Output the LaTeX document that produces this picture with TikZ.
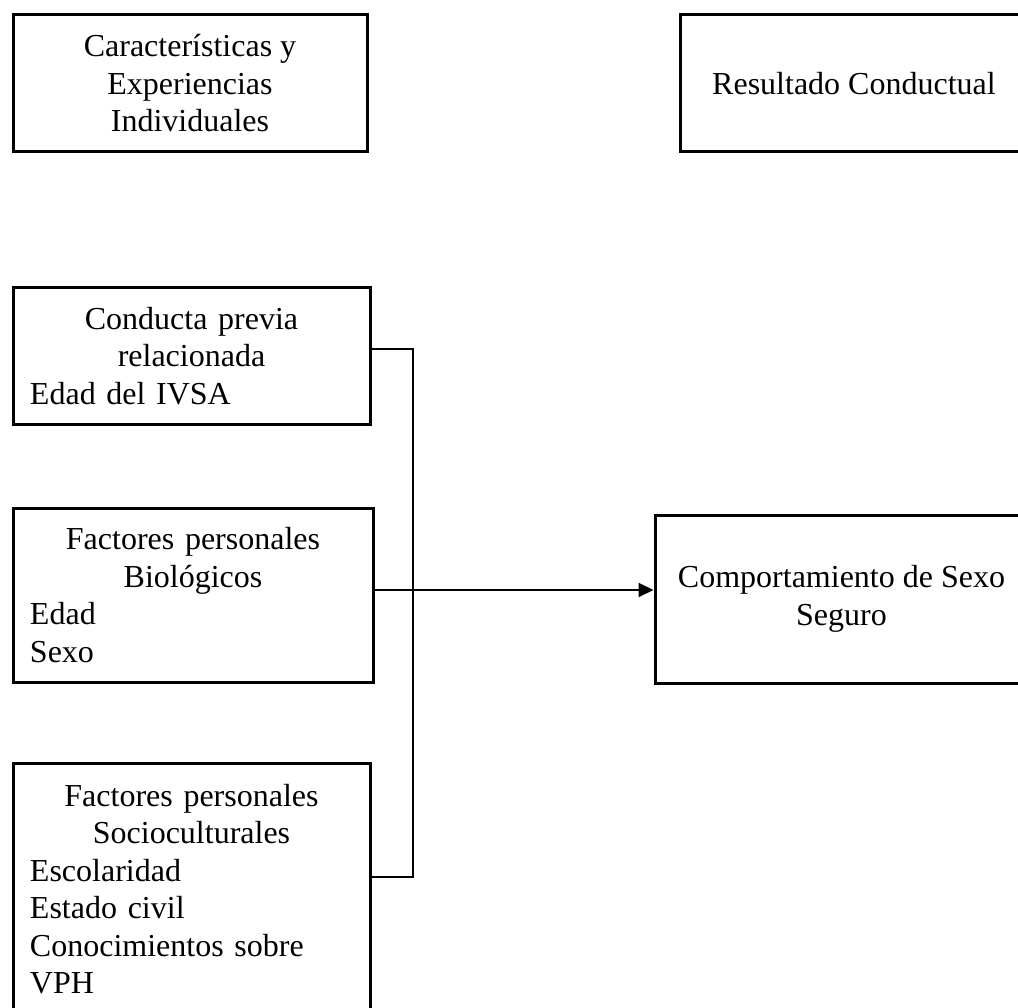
\documentclass[tikz,border=0pt]{standalone}
\usepackage{fontspec}
\setmainfont{Liberation Serif}
\usetikzlibrary{arrows.meta}
\tikzset{
  box/.style={draw, line width=3pt, inner sep=0pt, font=\fontsize{32}{37.5}\selectfont},
  cbox/.style={box, align=center},
  lbox/.style={box, align=left},
  conn/.style={line width=2pt},
  arr/.style={conn, -{Triangle[length=15pt,width=14pt]}}
}
\newcommand{\ctr}[1]{\makebox[\linewidth][c]{#1}}
\begin{document}
\begin{tikzpicture}[x=1pt,y=-1pt]
\useasboundingbox (0,0) rectangle (1018,1008);
\clip (0,0) rectangle (1018,1008);

\node[cbox, minimum width=354pt, minimum height=137pt] (b1) at (190,83.5)
  {Características y\\Experiencias\\Individuales};
\node[cbox, minimum width=348pt, minimum height=137pt] (b2) at (854,83.5)
  {Resultado Conductual};
\node[lbox, text width=323pt, minimum width=357pt, minimum height=136pt] (b3) at (191.5,356)
  {\ctr{Conducta previa}\\\ctr{relacionada}\\Edad del IVSA};
\node[lbox, text width=326pt, minimum width=360pt, minimum height=174pt] (b4) at (193,595)
  {\ctr{Factores personales}\\\ctr{Biológicos}\\Edad\\Sexo};
\node[lbox, text width=323pt, minimum width=357pt, minimum height=252pt] (b5) at (191.5,889)
  {\ctr{Factores personales}\\\ctr{Socioculturales}\\Escolaridad\\Estado civil\\Conocimientos sobre\\VPH};
\node[cbox, minimum width=373pt, minimum height=168pt] (b6) at (841.5,599)
  {Comportamiento de Sexo\\Seguro};

\coordinate (j) at (413,0);
\coordinate (p3) at ([yshift=7pt]b3.east);
\coordinate (p5) at ([yshift=12pt]b5.east);
\coordinate (p4) at ([yshift=5pt]b4.east);

\draw[conn] (p3) -- (p3 -| j) -- (p5 -| j) -- (p5);
\draw[arr] (p4) -- (p4 -| b6.west);
\end{tikzpicture}
\end{document}
